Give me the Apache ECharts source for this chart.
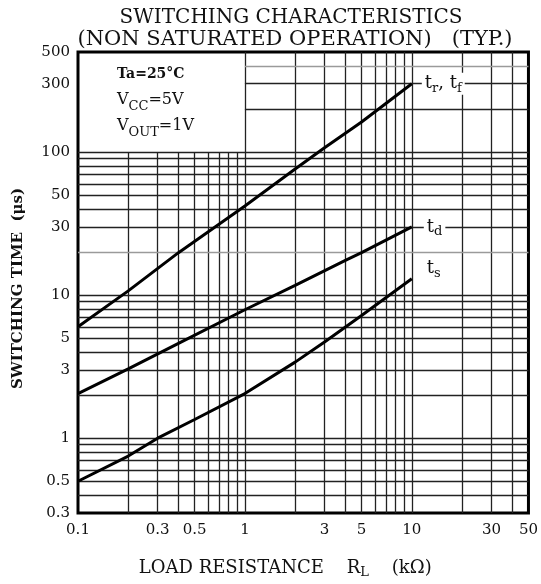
<!DOCTYPE html>
<html>
<head>
<meta charset="utf-8">
<script src="https://cdn.jsdelivr.net/npm/echarts@6/dist/echarts.min.js"></script>
<style>
  html, body { margin: 0; padding: 0; background: #fff; }
  #chart { width: 541px; height: 584px; }
</style>
</head>
<body>
<div id="chart"></div>
<script>
  // curves (R_L in kOhm, time in us)
  const trX = [0.1, 0.2, 0.4, 1, 2, 3, 5, 10]
  const trY = [6.0, 10.7, 19.8, 42, 76, 107, 162, 300]
  const tdX = [0.1, 0.2, 0.4, 1, 2, 4, 5, 10]
  const tdY = [2.05, 3.05, 4.6, 7.9, 11.7, 17.5, 19.8, 30]
  const tsX = [0.1, 0.2, 0.3, 0.5, 1, 2, 3, 5, 10]
  const tsY = [0.5, 0.75, 1.0, 1.35, 2.05, 3.4, 4.7, 7.2, 13]

  // tick labels
  const xLabels = [0.1, 0.3, 0.5, 1, 3, 5, 10, 30, 50]
  const yLabels = [0.3, 0.5, 1, 3, 5, 10, 30, 50, 100, 300, 500]

  // grid lines of the log paper
  const xGrid = [0.2, 0.3, 0.4, 0.5, 0.6, 0.7, 0.8, 0.9, 1, 2, 3, 4, 5, 6, 7, 8, 9, 10, 20, 30, 40]
  const yGrid = [0.4, 0.5, 0.6, 0.7, 0.8, 0.9, 1, 2, 3, 4, 5, 6, 7, 8, 9,
                 10, 20, 30, 40, 50, 60, 70, 80, 90, 100, 200, 300, 400]
  const greyLines = [20, 400]

  const X_MIN = 0.1, X_MAX = 50, Y_MIN = 0.3, Y_MAX = 500

  const serif = 'DejaVu Serif'
  const chart = echarts.init(document.getElementById('chart'))

  const pairs = (xs, ys) => xs.map((x, i) => [x, ys[i]])

  // grid segments; the upper-left block (0.1..1, 100..500) holds the condition box
  const gridSegs = []
  xGrid.forEach(x => {
    const top = x < 1 ? 100 : Y_MAX
    gridSegs.push([{coord: [x, Y_MIN]}, {coord: [x, top]}])
  })
  yGrid.forEach(y => {
    const left = y > 100 ? 1 : X_MIN
    const seg = [{coord: [left, y]}, {coord: [X_MAX, y]}]
    if (greyLines.indexOf(y) >= 0) {
      seg[0].lineStyle = {color: '#9a9a9a'}
    }
    gridSegs.push(seg)
  })

  const subRich = {
    t: {fontFamily: serif, fontSize: 18, color: '#111', lineHeight: 22},
    s: {fontFamily: serif, fontSize: 13, color: '#111', lineHeight: 12, verticalAlign: 'bottom'}
  }

  const curve = (name, data, label, offset) => ({
    name: name,
    type: 'line',
    data: data,
    z: 5,
    symbol: 'none',
    smooth: false,
    lineStyle: {color: '#000', width: 3},
    endLabel: {
      show: true,
      formatter: label,
      offset: offset,
      backgroundColor: '#fff',
      padding: [0, 3, 0, 3],
      rich: subRich
    }
  })

  const option = {
    animation: false,
    backgroundColor: '#fff',
    grid: {
      left: 78, top: 52, width: 453, height: 464,
      show: true, borderColor: '#000', borderWidth: 3,
      backgroundColor: 'transparent'
    },
    xAxis: {
      type: 'log', logBase: 10, min: X_MIN, max: X_MAX,
      axisLine: {show: false},
      axisTick: {show: false},
      splitLine: {show: false},
      minorTick: {show: false},
      axisLabel: {
        customValues: xLabels,
        margin: 10,
        fontFamily: serif, fontSize: 15, color: '#111',
        formatter: v => String(+(+v).toPrecision(3))
      },
      name: 'LOAD RESISTANCE    {n|R}{s|L}    (kΩ)',
      nameLocation: 'middle',
      nameGap: 44,
      nameTextStyle: {
        fontFamily: serif, fontSize: 18, color: '#111',
        padding: [0, 36, 0, 0],
        rich: {
          n: {fontFamily: serif, fontSize: 18, color: '#111', lineHeight: 22},
          s: {fontFamily: serif, fontSize: 13, color: '#111', lineHeight: 12, verticalAlign: 'bottom'}
        }
      }
    },
    yAxis: {
      type: 'log', logBase: 10, min: Y_MIN, max: Y_MAX,
      axisLine: {show: false},
      axisTick: {show: false},
      splitLine: {show: false},
      axisLabel: {
        customValues: yLabels,
        margin: 8,
        fontFamily: serif, fontSize: 15, color: '#111',
        formatter: v => String(+(+v).toPrecision(3))
      },
      name: 'SWITCHING TIME  (μs)',
      nameLocation: 'middle',
      nameGap: 52,
      nameTextStyle: {fontFamily: serif, fontSize: 15, fontWeight: 'bold', color: '#111', padding: [0, 12, 0, 0]}
    },
    graphic: [
      {type: 'text', x: 291, y: 18,
        style: {text: 'SWITCHING CHARACTERISTICS', font: '20px "DejaVu Serif"', fill: '#111',
          align: 'center', verticalAlign: 'middle'}},
      {type: 'text', x: 295, y: 40,
        style: {text: '(NON SATURATED OPERATION)   (TYP.)', font: '21px "DejaVu Serif"', fill: '#111',
          align: 'center', verticalAlign: 'middle'}},
      {type: 'text', x: 117, y: 61,
        style: {
          text: '{a|Ta=25°C}\n{t|V}{s|CC}{t|=5V}\n{t|V}{s|OUT}{t|=1V}',
          rich: {
            a: {fontFamily: serif, fontSize: 14, fontWeight: 'bold', fill: '#111', lineHeight: 26},
            t: {fontFamily: serif, fontSize: 16, fill: '#111', lineHeight: 26},
            s: {fontFamily: serif, fontSize: 13, fill: '#111', lineHeight: 14, verticalAlign: 'bottom'}
          }
        }}
    ],
    series: [
      {
        name: 'grid',
        type: 'line',
        data: [],
        z: 1,
        silent: true,
        markLine: {
          silent: true,
          symbol: ['none', 'none'],
          label: {show: false},
          lineStyle: {color: '#222', width: 1.3, type: 'solid'},
          emphasis: {disabled: true},
          data: gridSegs
        }
      },
      curve('tr, tf', pairs(trX, trY), '{t|t}{s|r}{t|, t}{s|f}', [2, 0]),
      curve('td', pairs(tdX, tdY), '{t|t}{s|d}', [4, 0]),
      curve('ts', pairs(tsX, tsY), '{t|t}{s|s}', [4, -10])
    ]
  }

  chart.setOption(option)
  window.addEventListener('resize', () => chart.resize())
</script>
</body>
</html>
